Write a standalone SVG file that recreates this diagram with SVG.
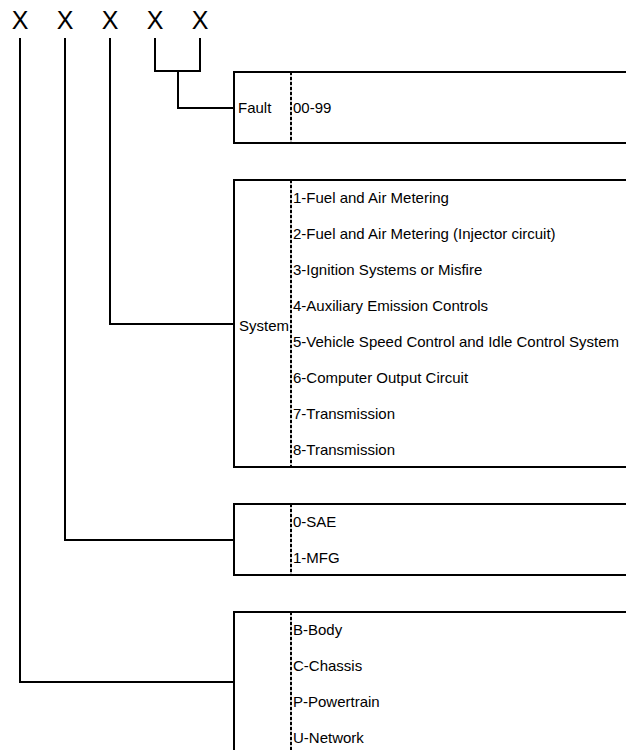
<svg xmlns="http://www.w3.org/2000/svg" width="626" height="750" viewBox="0 0 626 750">
<style>
.box{fill:none;stroke:#000;stroke-width:2}
.conn{fill:none;stroke:#000;stroke-width:2}
.sepbg{stroke:#c8c8c8;stroke-width:2}
.sep{stroke:#000;stroke-width:2;stroke-dasharray:3 2}
text{font-family:"Liberation Sans",Arial,sans-serif;font-size:15px;fill:#000}
.big{font-size:25px}
</style>
<rect width="626" height="750" fill="#fff"/>
<g id="digits">
<text class="big" x="20" y="29" text-anchor="middle">X</text>
<text class="big" x="65" y="29" text-anchor="middle">X</text>
<text class="big" x="110" y="29" text-anchor="middle">X</text>
<text class="big" x="155" y="29" text-anchor="middle">X</text>
<text class="big" x="200" y="29" text-anchor="middle">X</text>
</g>
<g id="connectors">
<polyline class="conn" points="20,38 20,682 234,682"/>
<polyline class="conn" points="65,38 65,540 234,540"/>
<polyline class="conn" points="110,38 110,324 234,324"/>
<polyline class="conn" points="155,38 155,71 200,71 200,38"/>
<polyline class="conn" points="178,71 178,108 234,108"/>
</g>
<g id="fault">
<rect class="box" x="234" y="72" width="420" height="71"/>
<line class="sepbg" x1="291" y1="72" x2="291" y2="143"/>
<line class="sep" x1="291" y1="72" x2="291" y2="143"/>
<text x="238" y="113">Fault</text>
<text x="293" y="113">00-99</text>
</g>
<g id="system">
<rect class="box" x="234" y="180" width="420" height="287"/>
<line class="sepbg" x1="291" y1="180" x2="291" y2="467"/>
<line class="sep" x1="291" y1="180" x2="291" y2="467"/>
<text x="239" y="331">System</text>
<text x="293" y="203">1-Fuel and Air Metering</text>
<text x="293" y="239">2-Fuel and Air Metering (Injector circuit)</text>
<text x="293" y="275">3-Ignition Systems or Misfire</text>
<text x="293" y="311">4-Auxiliary Emission Controls</text>
<text x="293" y="347">5-Vehicle Speed Control and Idle Control System</text>
<text x="293" y="383">6-Computer Output Circuit</text>
<text x="293" y="419">7-Transmission</text>
<text x="293" y="455">8-Transmission</text>
</g>
<g id="origin">
<rect class="box" x="234" y="504" width="420" height="71"/>
<line class="sepbg" x1="291" y1="504" x2="291" y2="575"/>
<line class="sep" x1="291" y1="504" x2="291" y2="575"/>
<text x="293" y="527">0-SAE</text>
<text x="293" y="563">1-MFG</text>
</g>
<g id="area">
<rect class="box" x="234" y="612" width="420" height="160"/>
<line class="sepbg" x1="291" y1="612" x2="291" y2="750"/>
<line class="sep" x1="291" y1="612" x2="291" y2="750"/>
<text x="293" y="635">B-Body</text>
<text x="293" y="671">C-Chassis</text>
<text x="293" y="707">P-Powertrain</text>
<text x="293" y="743">U-Network</text>
</g>
</svg>
